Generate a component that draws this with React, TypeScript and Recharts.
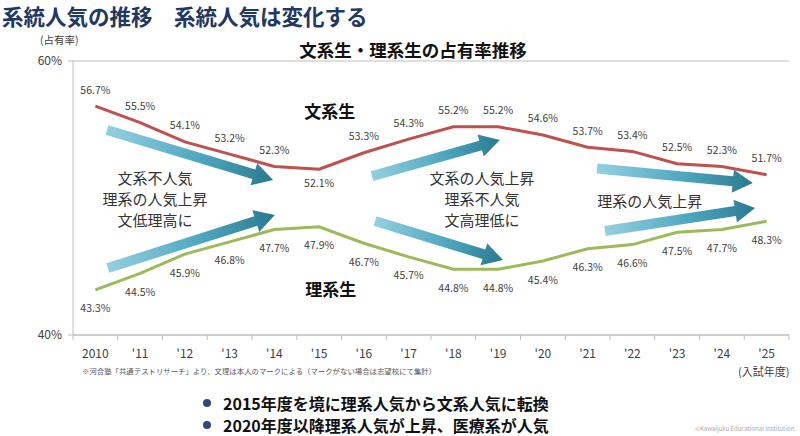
import React from "react";
import {
  LineChart,
  Line,
  XAxis,
  YAxis,
  CartesianGrid,
  LabelList,
  ReferenceLine,
  ReferenceDot,
} from "recharts";

// ---------- data ----------
const categories = ["2010", "'11", "'12", "'13", "'14", "'15", "'16", "'17", "'18", "'19", "'20", "'21", "'22", "'23", "'24", "'25"];
const bunkei = [56.7, 55.5, 54.1, 53.2, 52.3, 52.1, 53.3, 54.3, 55.2, 55.2, 54.6, 53.7, 53.4, 52.5, 52.3, 51.7];
const rikei = [43.3, 44.5, 45.9, 46.8, 47.7, 47.9, 46.7, 45.7, 44.8, 44.8, 45.4, 46.3, 46.6, 47.5, 47.7, 48.3];
const yTicks = [40, 60];

// arrow annotations in data space: [x1, y1, x2, y2]
const arrows: number[][] = [
  [0.26, 54.96, 3.97, 51.31],
  [0.28, 44.89, 4.01, 48.76],
  [6.18, 51.6, 9.04, 54.23],
  [6.25, 48.32, 9.11, 45.47],
  [11.21, 52.15, 14.69, 51.09],
  [11.39, 47.59, 14.74, 49.27],
];

// text annotations in data space
const notes: { x: number; y: number; lines: string[] }[] = [
  { x: 1.33, y: 50.0, lines: ["文系不人気", "理系の人気上昇", "文低理高に"] },
  { x: 8.64, y: 50.0, lines: ["文系の人気上昇", "理系不人気", "文高理低に"] },
  { x: 12.39, y: 49.85, lines: ["理系の人気上昇"] },
];
const seriesNames = [
  { x: 5.24, y: 56.42, text: "文系生" },
  { x: 5.26, y: 43.36, text: "理系生" },
];

const rows = categories.map((c, i) => ({ i, cat: c, bunkei: bunkei[i], rikei: rikei[i] }));
const xTicks: number[] = [];
for (let k = -1; k < categories.length * 2; k++) xTicks.push(k / 2);

const JP = '"Noto Sans CJK JP", "Noto Sans", sans-serif';
const AXIS = "#BFBFBF";
const TXT = "#404040";

const XTick = (props: any) => {
  const { x, y, payload } = props;
  const v = payload.value;
  if (Number.isInteger(v)) {
    return (
      <text x={x} y={y + 12} textAnchor="middle" dominantBaseline="central" fontSize={12} fill={TXT} fontFamily={JP}>
        {categories[v]}
      </text>
    );
  }
  return <line x1={x} x2={x} y1={y - 5} y2={y} stroke={AXIS} strokeWidth={1} />;
};

const makeLabel = (color: string, isBelow: (i: number) => boolean, below: number, above: number) => (props: any) => {
  const { x, y, value, index } = props;
  const dy = isBelow(index) ? below : above;
  return (
    <text x={x} y={y + dy} textAnchor="middle" dominantBaseline="central" fontSize={10.5} fill={color} fontFamily={JP}>
      {Number(value).toFixed(1)}%
    </text>
  );
};

const makeArrow = (id: number) => (p: any) => {
  const { x1, y1, x2, y2 } = p;
  const dx = x2 - x1;
  const dy = y2 - y1;
  const len = Math.sqrt(dx * dx + dy * dy);
  const ux = dx / len;
  const uy = dy / len;
  const nx = -uy;
  const ny = ux;
  const shaft = 5;
  const head = 11.5;
  const headLen = 20;
  const bx = x2 - ux * headLen;
  const by = y2 - uy * headLen;
  const pts = [
    [x1 + nx * shaft, y1 + ny * shaft],
    [bx + nx * shaft, by + ny * shaft],
    [bx + nx * head, by + ny * head],
    [x2, y2],
    [bx - nx * head, by - ny * head],
    [bx - nx * shaft, by - ny * shaft],
    [x1 - nx * shaft, y1 - ny * shaft],
  ]
    .map((q) => q.join(","))
    .join(" ");
  const gid = `arrowGrad${id}`;
  return (
    <g>
      <defs>
        <linearGradient id={gid} gradientUnits="userSpaceOnUse" x1={x1} y1={y1} x2={x2} y2={y2}>
          <stop offset="0%" stopColor="#93D0E0" />
          <stop offset="55%" stopColor="#4FA8C0" />
          <stop offset="100%" stopColor="#2A7A90" />
        </linearGradient>
      </defs>
      <polygon points={pts} fill={`url(#${gid})`} />
    </g>
  );
};

const makeNote = (lines: string[]) => (p: any) => {
  const { cx, cy } = p;
  const lh = 21;
  const start = cy - ((lines.length - 1) * lh) / 2;
  return (
    <g>
      {lines.map((t, k) => (
        <text key={k} x={cx} y={start + k * lh} textAnchor="middle" dominantBaseline="central" fontSize={15} fill="#333" fontFamily={JP}>
          {t}
        </text>
      ))}
    </g>
  );
};

const makeName = (text: string) => (p: any) => (
  <text x={p.cx} y={p.cy} textAnchor="middle" dominantBaseline="central" fontSize={17} fontWeight="bold" fill="#111" fontFamily={JP}>
    {text}
  </text>
);

export default function App() {
  return (
    <div style={{ position: "absolute", left: 0, top: 0, width: 800, height: 436, background: "#fff", overflow: "hidden", fontFamily: JP }}>
      <div style={{ position: "absolute", left: 2, top: 0, fontSize: 21.5, fontWeight: "bold", color: "#1F3864", lineHeight: "normal", whiteSpace: "nowrap" }}>
        系統人気の推移　系統人気は変化する
      </div>
      <div style={{ position: "absolute", left: 40, top: 32, fontSize: 10.5, color: TXT, lineHeight: "16px", whiteSpace: "nowrap" }}>
        (占有率)
      </div>
      <div style={{ position: "absolute", left: 213, width: 400, textAlign: "center", top: 38, fontSize: 17.5, fontWeight: "bold", color: "#111", lineHeight: "24px", whiteSpace: "nowrap" }}>
        文系生・理系生の占有率推移
      </div>

      <div style={{ position: "absolute", left: 0, top: 0 }}>
        <LineChart width={800} height={436} data={rows} margin={{ top: 61, right: 11, bottom: 71, left: 0 }}>
          <CartesianGrid vertical={false} stroke={AXIS} />
          <XAxis
            dataKey="i"
            type="number"
            domain={[-0.5, categories.length - 0.5]}
            ticks={xTicks}
            interval={0}
            tickLine={false}
            tickSize={5}
            tickMargin={0}
            axisLine={{ stroke: AXIS }}
            height={30}
            tick={<XTick />}
          />
          <YAxis
            type="number"
            domain={[40, 60]}
            ticks={yTicks}
            width={73}
            tickFormatter={(v: number) => `${v}%`}
            tickSize={5}
            tickMargin={6}
            tickLine={{ stroke: AXIS }}
            axisLine={{ stroke: AXIS }}
            tick={{ fontSize: 12, fill: TXT, fontFamily: JP }}
          />
          <YAxis yAxisId="r" orientation="right" type="number" domain={[40, 60]} width={0} tick={false} tickLine={false} axisLine={{ stroke: AXIS }} />

          {arrows.map((a, k) => (
            <ReferenceLine
              key={`a${k}`}
              segment={[
                { x: a[0], y: a[1] },
                { x: a[2], y: a[3] },
              ]}
              ifOverflow="visible"
              shape={makeArrow(k)}
            />
          ))}

          <Line type="linear" dataKey="bunkei" stroke="#C0504D" strokeWidth={3} dot={false} isAnimationActive={false}>
            <LabelList dataKey="bunkei" content={makeLabel(TXT, (i) => i === 5, 13, -17)} />
          </Line>
          <Line type="linear" dataKey="rikei" stroke="#9BBB59" strokeWidth={3} dot={false} isAnimationActive={false}>
            <LabelList dataKey="rikei" content={makeLabel(TXT, () => true, 18, -17)} />
          </Line>

          {notes.map((n, k) => (
            <ReferenceDot key={`n${k}`} x={n.x} y={n.y} ifOverflow="visible" shape={makeNote(n.lines)} />
          ))}
          {seriesNames.map((s, k) => (
            <ReferenceDot key={`s${k}`} x={s.x} y={s.y} ifOverflow="visible" shape={makeName(s.text)} />
          ))}
        </LineChart>
      </div>

      <div style={{ position: "absolute", left: 82, top: 365, fontSize: 7.4, color: "#555", lineHeight: "12px", whiteSpace: "nowrap" }}>
        ※河合塾「共通テストリサーチ」より、文理は本人のマークによる（マークがない場合は志望校にて集計）
      </div>
      <div style={{ position: "absolute", left: 738, top: 363, fontSize: 11, color: TXT, lineHeight: "16px", whiteSpace: "nowrap" }}>
        (入試年度)
      </div>

      <div style={{ position: "absolute", left: 203, top: 399, width: 8, height: 8, borderRadius: 4, background: "#2E4A7D" }} />
      <div style={{ position: "absolute", left: 223, top: 393, fontSize: 16, fontWeight: "bold", color: "#111", lineHeight: "20px", whiteSpace: "nowrap" }}>
        2015年度を境に理系人気から文系人気に転換
      </div>
      <div style={{ position: "absolute", left: 203, top: 421, width: 8, height: 8, borderRadius: 4, background: "#2E4A7D" }} />
      <div style={{ position: "absolute", left: 223, top: 415, fontSize: 16, fontWeight: "bold", color: "#111", lineHeight: "20px", whiteSpace: "nowrap" }}>
        2020年度以降理系人気が上昇、医療系が人気
      </div>
      <div style={{ position: "absolute", right: 4, top: 424, fontSize: 6, color: "#AAA", lineHeight: "10px", whiteSpace: "nowrap" }}>
        ©Kawaijuku Educational Institution.
      </div>
    </div>
  );
}
